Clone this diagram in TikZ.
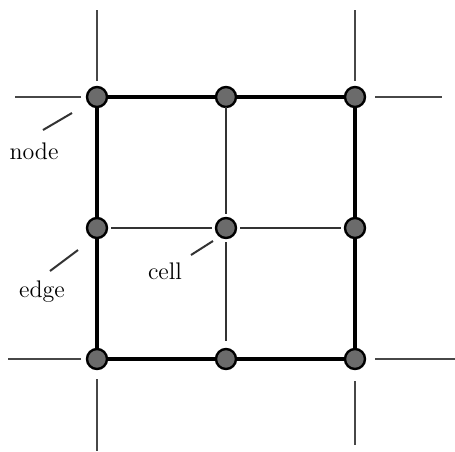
\documentclass[tikz,border=0pt]{standalone}
\usepackage{tikz}

\tikzset{
  gridpt/.style={circle,draw=black,line width=1.2pt,fill=black!58,minimum size=10pt,inner sep=0pt,outer sep=0pt},
  border/.style={line width=1.6pt,black},
  inner/.style={line width=1.1pt,black!80,shorten <=2pt,shorten >=2pt},
  stub/.style={line width=1.1pt,black!72,shorten <=3pt},
  pointer/.style={line width=1pt,black!80},
  lbl/.style={font=\large,inner sep=0pt}
}

\begin{document}
\begin{tikzpicture}[x=0.5pt,y=-0.5pt]
  \useasboundingbox (0,0) rectangle (455,451);

  % grid points
  \node[gridpt] (tl) at (97,97) {};
  \node[gridpt] (tm) at (226,97) {};
  \node[gridpt] (tr) at (355,97) {};
  \node[gridpt] (ml) at (97,228) {};
  \node[gridpt] (mm) at (226,228) {};
  \node[gridpt] (mr) at (355,228) {};
  \node[gridpt] (bl) at (97,359) {};
  \node[gridpt] (bm) at (226,359) {};
  \node[gridpt] (br) at (355,359) {};

  % outer border
  \draw[border] (tl) -- (tm) -- (tr) -- (mr) -- (br) -- (bm) -- (bl) -- (ml) -- (tl);

  % inner lines
  \draw[inner] (ml) -- (mm);
  \draw[inner] (mm) -- (mr);
  \draw[inner,shorten <=0pt] (tm) -- (mm);
  \draw[inner,shorten >=4pt] (mm) -- (bm);

  % stubs going out
  \coordinate (tlN) at (97,10);
  \coordinate (tlW) at (15,97);
  \coordinate (trN) at (355,10);
  \coordinate (trE) at (442,97);
  \coordinate (blW) at (8,359);
  \coordinate (blS) at (97,451);
  \coordinate (brE) at (455,359);
  \coordinate (brS) at (355,445);
  \draw[stub] (tl) -- (tlN);
  \draw[stub] (tl) -- (tlW);
  \draw[stub] (tr) -- (trN);
  \draw[stub,shorten <=5pt] (tr) -- (trE);
  \draw[stub] (bl) -- (blW);
  \draw[stub,shorten <=5pt] (bl) -- (blS);
  \draw[stub,shorten <=5pt] (br) -- (brE);
  \draw[stub,shorten <=6pt] (br) -- (brS);

  % labels
  \node[lbl] (nodetxt) at (34,151) {node};
  \node[lbl] (edgetxt) at (42,292) {edge};
  \node[lbl] (celltxt) at (165,271) {cell};
  \coordinate (nodeA) at (43,130);
  \coordinate (nodeB) at (72,113);
  \coordinate (edgeA) at (50,271);
  \coordinate (edgeB) at (78,250);
  \coordinate (cellA) at (191,255);
  \coordinate (cellB) at (213,241);
  \draw[pointer] (nodeA) -- (nodeB);
  \draw[pointer] (edgeA) -- (edgeB);
  \draw[pointer] (cellA) -- (cellB);
\end{tikzpicture}
\end{document}
